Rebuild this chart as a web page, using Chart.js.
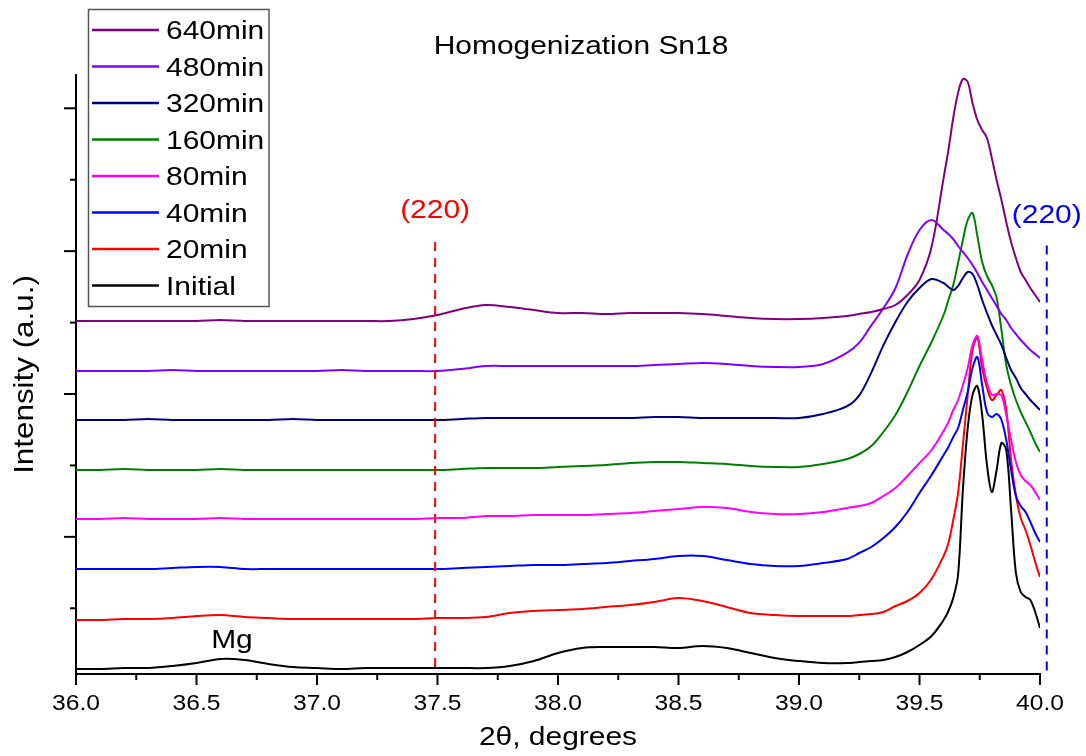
<!DOCTYPE html>
<html>
<head>
<meta charset="utf-8">
<script src="https://cdn.jsdelivr.net/npm/chart.js@4.4.1/dist/chart.umd.min.js"></script>
<style>
  body { margin: 0; background: #fff; }
  canvas { display: block; }
</style>
</head>
<body>
<canvas id="myChart" width="1086" height="756"></canvas>
<script>
// 2theta positions (degrees) - coarser on the flat part, finer around the (220) peak
const twoTheta = [36.0,36.1,36.2,36.3,36.4,36.5,36.6,36.7,36.8,36.9,37.0,37.1,37.2,37.3,37.4,37.5,
  37.6,37.7,37.8,37.9,38.0,38.1,38.2,38.3,38.4,38.5,38.6,38.7,38.8,38.9,39.0,39.1,39.2,
  39.25,39.3,39.35,39.4,39.45,39.5,39.55,39.6,
  39.62,39.64,39.66,39.68,39.7,39.72,39.74,39.76,39.78,39.8,39.82,39.84,39.86,39.88,39.9,39.92,39.94,39.96,39.98,40.0]

// stacked intensities (a.u.)
const min640 = [2511,2511,2511,2511,2511,2511,2518,2511,2511,2511,2511,2511,2511,2511,
  2525,2553,2595,2623,2609,2588,2567,2567,2560,2567,2567,2567,2560,2546,2532,2525,2525,2532,2546,
  2560,2574,2595,2623,2693,2798,3029,3512,
  3708,3932,4107,4205,4184,4037,3918,3848,3792,3652,3498,3358,3204,3064,2952,2854,2798,2742,2693,2644]
const min480 = [2161,2161,2161,2161,2168,2161,2161,2161,2161,2161,2161,2168,2161,2161,2161,2161,
  2175,2196,2196,2196,2196,2196,2196,2196,2203,2210,2217,2210,2196,2189,2189,2210,2290,
  2360,2480,2600,2740,2973,3148,3218,3148,
  3120,3085,3036,2994,2952,2903,2847,2784,2728,2672,2616,2560,2518,2462,2420,2378,2343,2308,2280,2252]
const min320 = [1818,1818,1818,1825,1818,1818,1818,1818,1818,1825,1818,1818,1818,1818,1818,1818,
  1825,1832,1832,1832,1832,1832,1832,1832,1839,1839,1832,1832,1832,1832,1832,1860,1915,
  1990,2150,2340,2504,2644,2742,2805,2777,
  2749,2728,2756,2812,2854,2840,2763,2658,2567,2483,2413,2343,2252,2168,2112,2042,2000,1958,1923,1888]
const min160 = [1468,1468,1475,1468,1468,1468,1475,1468,1468,1468,1468,1468,1468,1468,1468,1468,
  1475,1482,1482,1482,1489,1496,1503,1517,1524,1524,1517,1510,1496,1489,1489,1510,1545,
  1580,1636,1734,1853,2014,2196,2364,2553,
  2658,2763,2917,3078,3218,3267,3106,2924,2826,2763,2672,2448,2203,2063,1958,1874,1804,1734,1657,1594]
const min80 = [1125,1125,1132,1125,1125,1125,1132,1125,1125,1125,1125,1125,1125,1125,1125,1132,
  1132,1146,1146,1153,1153,1153,1160,1167,1181,1195,1209,1202,1174,1160,1160,1174,1202,
  1216,1237,1286,1342,1426,1517,1608,1741,
  1804,1888,1958,2063,2182,2343,2406,2238,2077,1993,2000,1993,1853,1678,1524,1433,1391,1363,1314,1258]
const min40 = [775,775,775,775,782,789,789,775,775,775,775,775,775,775,775,775,
  782,789,796,803,803,810,817,831,845,866,866,838,810,796,796,817,845,
  887,929,992,1069,1174,1307,1433,1573,
  1629,1699,1762,1888,2014,2182,2259,2063,1874,1839,1860,1818,1678,1468,1286,1216,1174,1104,1027,964]
const min20 = [418,418,425,425,432,446,453,439,432,425,425,425,425,425,425,432,
  432,439,467,481,488,495,509,523,544,572,551,509,467,453,446,446,446,
  453,460,474,516,551,607,705,866,
  957,1118,1307,1643,1993,2308,2392,2182,2042,1958,1993,2028,1888,1538,1293,1132,1048,943,824,719]
const initial = [75,75,82,82,96,117,145,138,110,89,82,75,82,82,82,82,
  82,82,96,131,187,222,229,229,229,222,236,222,187,152,131,117,117,
  124,131,138,159,194,243,306,418,
  481,572,733,1328,1760,1993,2056,1853,1503,1314,1468,1657,1608,1188,747,614,579,558,474,362]

const seriesNames = ['640min','480min','320min','160min','80min','40min','20min','Initial']
const seriesValues = [min640, min480, min320, min160, min80, min40, min20, initial]
const seriesColors = ['#800080','#8000FF','#000080','#008000','#FF00FF','#0000FF','#FF0000','#000000']

const xTickLabels = ['36.0','36.5','37.0','37.5','38.0','38.5','39.0','39.5','40.0']
const yMajorTicks = [1000, 2000, 3000, 4000]

// marker lines / notes in data coordinates
const peakMarks = [
  {pos: 37.49, top: 3064, text: '(220)', textY: 3232, color: '#FF0000'},
  {pos: 40.028, top: 3040, text: '(220)', textY: 3197, color: '#0000FF'}
]
const mgNote = {pos: 36.647, y: 222, text: 'Mg'}

const FONT = '"Liberation Sans", Arial, sans-serif'

function stretchText(ctx, str, x, y, size, sx, align, color) {
  ctx.save()
  ctx.font = size + 'px ' + FONT
  ctx.fillStyle = color || '#000'
  ctx.textAlign = align || 'center'
  ctx.textBaseline = 'alphabetic'
  ctx.translate(x, y)
  ctx.scale(sx, 1)
  ctx.fillText(str, 0, 0)
  ctx.restore()
}

const decorations = {
  id: 'decorations',
  afterDatasetsDraw(chart) {
    const {ctx, scales: {x, y}, chartArea} = chart
    ctx.save()
    ctx.lineWidth = 2
    ctx.setLineDash([9, 7])
    peakMarks.forEach(m => {
      const px = x.getPixelForValue(m.pos)
      ctx.strokeStyle = m.color
      ctx.beginPath()
      ctx.moveTo(px, y.getPixelForValue(m.top))
      ctx.lineTo(px, chartArea.bottom - 2)
      ctx.stroke()
    })
    ctx.restore()
  },
  afterDraw(chart) {
    const {ctx, scales: {x, y}, chartArea} = chart
    ctx.save()
    ctx.strokeStyle = '#000'
    ctx.lineWidth = 2
    // x ticks, major ones labelled
    x.ticks.forEach((t, i) => {
      const px = x.getPixelForValue(t.value)
      const major = i % 2 === 0
      ctx.beginPath()
      ctx.moveTo(px, chartArea.bottom)
      ctx.lineTo(px, chartArea.bottom + (major ? 11 : 6))
      ctx.stroke()
      if (major) stretchText(ctx, xTickLabels[i / 2], px, 710, 22, 1.12, 'center')
    })
    // y ticks, no labels
    y.ticks.forEach(t => {
      const py = y.getPixelForValue(t.value)
      const major = yMajorTicks.includes(t.value)
      ctx.beginPath()
      ctx.moveTo(chartArea.left, py)
      ctx.lineTo(chartArea.left - (major ? 12 : 6), py)
      ctx.stroke()
    })
    ctx.restore()

    // titles
    stretchText(ctx, 'Homogenization Sn18', 581, 54, 25.6, 1.17, 'center')
    stretchText(ctx, '2\u03B8, degrees', (chartArea.left + chartArea.right) / 2, 745, 25.6, 1.17, 'center')
    ctx.save()
    ctx.translate(33, (chartArea.top + chartArea.bottom) / 2)
    ctx.rotate(-Math.PI / 2)
    stretchText(ctx, 'Intensity (a.u.)', 0, 0, 28, 1.12, 'center')
    ctx.restore()

    // peak notes
    peakMarks.forEach(m => {
      stretchText(ctx, m.text, x.getPixelForValue(m.pos), y.getPixelForValue(m.textY), 25.6, 1.17, 'center', m.color)
    })
    stretchText(ctx, mgNote.text, x.getPixelForValue(mgNote.pos), y.getPixelForValue(mgNote.y), 25.6, 1.17, 'center')

    // legend box
    ctx.save()
    ctx.fillStyle = '#fff'
    ctx.fillRect(88, 9, 181, 298)
    ctx.strokeStyle = '#555'
    ctx.lineWidth = 1.5
    ctx.strokeRect(88.5, 9.5, 180.5, 297)
    chart.data.datasets.forEach((ds, i) => {
      const ly = 30 + i * 36.5
      ctx.strokeStyle = ds.borderColor
      ctx.lineWidth = 2.5
      ctx.beginPath()
      ctx.moveTo(92, ly)
      ctx.lineTo(159, ly)
      ctx.stroke()
      stretchText(ctx, ds.label, 166, ly + 9, 25.6, 1.17, 'left')
    })
    ctx.restore()
  }
}

const datasets = seriesNames.map((name, i) => ({
  label: name,
  data: twoTheta.map((t, j) => ({x: t, y: seriesValues[i][j]})),
  borderColor: seriesColors[i],
  borderWidth: 2,
  pointRadius: 0,
  fill: false,
  tension: 0.35
}))

const myChart = new Chart(document.getElementById('myChart'), {
  type: 'line',
  data: { datasets: datasets },
  options: {
    responsive: false,
    animation: false,
    layout: { padding: { top: 75, right: 46, left: 0, bottom: 0 } },
    plugins: {
      legend: { display: false },
      tooltip: { enabled: false }
    },
    scales: {
      x: {
        type: 'linear',
        min: 36,
        max: 40,
        grid: { display: false },
        border: { display: true, color: '#000', width: 2 },
        ticks: { display: false },
        afterBuildTicks: s => {
          const ticks = []
          xTickLabels.forEach((lab, i) => {
            const v = parseFloat(lab)
            ticks.push({value: v})
            if (i < xTickLabels.length - 1) ticks.push({value: v + 0.25})
          })
          s.ticks = ticks
        },
        afterFit: s => { s.height = 82 }
      },
      y: {
        type: 'linear',
        min: 40,
        max: 4233,
        grid: { display: false },
        border: { display: true, color: '#000', width: 2 },
        ticks: { display: false },
        afterBuildTicks: s => {
          const ticks = []
          yMajorTicks.forEach(v => { ticks.push({value: v - 500}); ticks.push({value: v}) })
          s.ticks = ticks
        },
        afterFit: s => { s.width = 76 }
      }
    }
  },
  plugins: [decorations]
})
</script>
</body>
</html>
